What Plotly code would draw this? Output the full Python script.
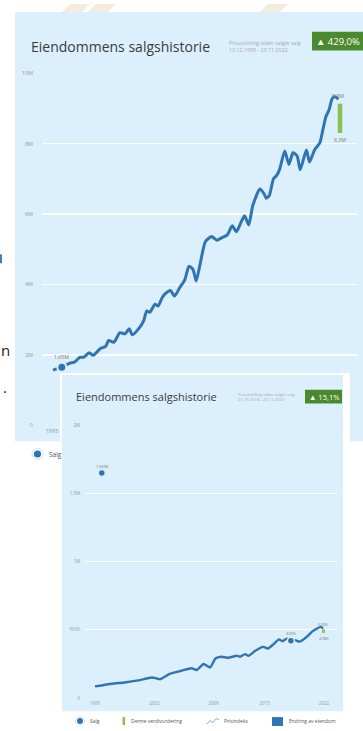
import plotly.graph_objects as go

W, H = 363, 731

# ---------------- data ----------------
# Top chart: price index line, NOK millions
top_years = [1995.1, 1996.0, 1996.7, 1997.2, 1997.7, 1998.1, 1998.6, 1999.0, 1999.7, 2000.2,
             2000.5, 2001.0, 2001.6, 2002.1, 2002.5, 2002.8, 2003.4, 2003.9, 2004.2, 2004.5,
             2005.0, 2005.3, 2005.7, 2006.0, 2006.5, 2006.9, 2007.4, 2007.9, 2008.3, 2008.7,
             2009.0, 2009.4, 2009.9, 2010.5, 2011.0, 2011.5, 2012.0, 2012.5, 2012.9, 2013.4,
             2013.7, 2014.1, 2014.5, 2015.2, 2015.6, 2015.8, 2016.1, 2016.5, 2016.8, 2017.1,
             2017.6, 2018.0, 2018.4, 2018.8, 2019.1, 2019.7, 2020.0, 2020.5, 2021.0, 2021.3,
             2021.6, 2021.9, 2022.2, 2022.5, 2022.8]
top_values = [1.57, 1.66, 1.76, 1.80, 1.93, 1.94, 2.06, 1.99, 2.18, 2.24,
              2.41, 2.36, 2.63, 2.60, 2.74, 2.57, 2.74, 2.97, 3.25, 3.21,
              3.44, 3.39, 3.63, 3.74, 3.83, 3.67, 3.91, 4.14, 4.52, 4.42,
              4.10, 4.61, 5.22, 5.36, 5.26, 5.33, 5.40, 5.67, 5.50, 5.80,
              5.95, 5.69, 6.25, 6.71, 6.57, 6.45, 6.53, 7.00, 7.09, 7.27,
              7.79, 7.41, 7.74, 7.65, 7.26, 7.82, 7.48, 7.83, 8.02, 8.40,
              8.77, 8.96, 9.28, 9.33, 9.26]
top_sale_years = [1995.95]
top_sale_values = [1.65]
top_sale_labels = ["1,65M"]
top_val_year = 2022.96
top_val_low = 8.3
top_val_high = 9.13
top_val_low_label = "8,3M"
top_end_label = "9,3M"
top_yticks = [0, 2, 4, 6, 8, 10]
top_yticktext = ["0", "2M", "4M", "6M", "8M", "10M"]
top_xticks = [1995, 2002, 2009, 2015, 2022]
top_xticktext = ["1995", "2002", "2009", "2015", "2022"]
top_change = "▲ 429,0%"
top_period = "13.12.1995 - 23.11.2022"

# Bottom chart: price index line, NOK millions
bot_years = [1995.0, 1997.0, 1998.5, 2000.1, 2001.7, 2002.2, 2002.7, 2003.8, 2005.2, 2006.4,
             2007.0, 2007.8, 2008.6, 2009.2, 2009.9, 2010.7, 2011.7, 2012.1, 2012.7, 2013.1,
             2013.9, 2014.8, 2015.4, 2016.0, 2016.7, 2017.1, 2017.6, 2018.1, 2018.6, 2019.1,
             2019.5, 2020.0, 2020.6, 2021.2, 2021.6, 2021.9]
bot_values = [0.085, 0.105, 0.114, 0.129, 0.150, 0.145, 0.138, 0.177, 0.200, 0.218,
              0.206, 0.250, 0.225, 0.290, 0.303, 0.295, 0.310, 0.303, 0.322, 0.310,
              0.346, 0.375, 0.363, 0.392, 0.430, 0.416, 0.435, 0.420, 0.425, 0.414,
              0.426, 0.450, 0.487, 0.510, 0.522, 0.510]
bot_sale_years = [1995.8, 2018.1]
bot_sale_values = [1.65, 0.42]
bot_sale_labels = ["1,65M", "420K"]
bot_val_year = 2021.95
bot_val_low = 0.478
bot_val_high = 0.503
bot_val_low_label = "478K"
bot_end_label = "520K"
bot_yticks = [0, 0.5, 1, 1.5, 2]
bot_yticktext = ["0", "500K", "1M", "1,5M", "2M"]
bot_xticks = [1995, 2002, 2009, 2015, 2022]
bot_xticktext = ["1995", "2002", "2009", "2015", "2022"]
bot_change = "▲ 15,1%"
bot_period = "01.10.2018 - 23.11.2022"

title_text = "Eiendommens salgshistorie"
subtitle_text = "Prisutvikling siden salgte salg"
legend_items = ["Salg", "Denne verdivurdering", "Prisindeks", "Endring av eiendom"]

# ---------------- style ----------------
FONT = "Open Sans"
PANEL = "#dcEFFC"
LINE = "#2f74b3"
GREEN_BAR = "#8cc152"
BADGE = "#4a8a2c"
TICK = "#9a9a9a"


def fx(px):
    return px / W


def fy(py):
    return 1 - py / H


fig = go.Figure()

# top chart traces (x, y)
fig.add_trace(go.Scatter(x=top_years, y=top_values, mode="lines",
                         line=dict(color=LINE, width=3, shape="spline", smoothing=0.6),
                         xaxis="x", yaxis="y", hoverinfo="skip", showlegend=False))
fig.add_trace(go.Scatter(x=[top_val_year, top_val_year], y=[top_val_low, top_val_high], mode="lines",
                         line=dict(color=GREEN_BAR, width=4.5),
                         xaxis="x", yaxis="y", hoverinfo="skip", showlegend=False))
fig.add_trace(go.Scatter(x=top_sale_years, y=top_sale_values, mode="markers",
                         marker=dict(color=LINE, size=9, line=dict(color=PANEL, width=2)),
                         xaxis="x", yaxis="y", hoverinfo="skip", showlegend=False, cliponaxis=False))

# helper subplot: the overlaid card (x2, y2)
fig.add_trace(go.Scatter(x=[0.5], y=[0.5], mode="markers", marker=dict(opacity=0),
                         xaxis="x2", yaxis="y2", hoverinfo="skip", showlegend=False))

# bottom chart traces (x3, y3)
fig.add_trace(go.Scatter(x=bot_years, y=bot_values, mode="lines",
                         line=dict(color=LINE, width=2.4, shape="spline", smoothing=0.5),
                         xaxis="x3", yaxis="y3", hoverinfo="skip", showlegend=False))
fig.add_trace(go.Scatter(x=[bot_val_year, bot_val_year], y=[bot_val_low, bot_val_high], mode="lines",
                         line=dict(color=GREEN_BAR, width=3),
                         xaxis="x3", yaxis="y3", hoverinfo="skip", showlegend=False))
fig.add_trace(go.Scatter(x=bot_sale_years, y=bot_sale_values, mode="markers",
                         marker=dict(color=LINE, size=7, line=dict(color=PANEL, width=1.5)),
                         xaxis="x3", yaxis="y3", hoverinfo="skip", showlegend=False))

axis_common = dict(showline=False, zeroline=False, ticks="", gridcolor="white", gridwidth=1.2,
                   fixedrange=True)

fig.update_layout(
    width=W, height=H, autosize=False,
    margin=dict(l=0, r=0, t=0, b=0, pad=0),
    paper_bgcolor="white", plot_bgcolor="rgba(0,0,0,0)",
    font=dict(family=FONT, color="#444"),
    xaxis=dict(axis_common, domain=[fx(42), fx(357)], range=[1995 + (42 - 52) / 10.3, 1995 + (357 - 52) / 10.3],
               anchor="y", tickvals=top_xticks, ticktext=top_xticktext, showgrid=False,
               tickfont=dict(size=5.5, color=TICK), ticklabelstandoff=1),
    yaxis=dict(axis_common, domain=[fy(426), fy(70)], range=[0, 10], anchor="x",
               tickvals=top_yticks, ticktext=top_yticktext,
               tickfont=dict(size=5.5, color=TICK), ticklabelstandoff=8),
    xaxis2=dict(domain=[fx(60), fx(350)], range=[0, 1], anchor="y2", visible=False, fixedrange=True),
    yaxis2=dict(domain=[0, fy(373)], range=[0, 1], anchor="x2", visible=False, fixedrange=True),
    xaxis3=dict(axis_common, domain=[fx(85), fx(337)], range=[1995 + (85 - 95) / 8.48, 1995 + (337 - 95) / 8.48],
                anchor="y3", tickvals=bot_xticks, ticktext=bot_xticktext, showgrid=False,
                tickfont=dict(size=4.5, color=TICK), ticklabelstandoff=1),
    yaxis3=dict(axis_common, domain=[fy(701.7), fy(426)], range=[0, 2], anchor="x3",
                tickvals=bot_yticks, ticktext=bot_yticktext,
                tickfont=dict(size=4.5, color=TICK), ticklabelstandoff=4),
)

shapes = []
# faint background stripes of the page
for x0 in (70, 96, 268):
    shapes.append(dict(type="path", xref="paper", yref="paper", layer="below",
                       path=f"M {fx(x0)} {fy(0)} L {fx(x0 + 20)} {fy(0)} L {fx(x0 + 12)} {fy(8)} L {fx(x0 - 8)} {fy(8)} Z",
                       fillcolor="#f4ecdd", line=dict(width=0)))
# top panel background
shapes.append(dict(type="rect", xref="paper", yref="paper", layer="below",
                   x0=fx(15), x1=1.01, y0=fy(442), y1=fy(8), fillcolor=PANEL, line=dict(width=0)))
# overlaid card (inside helper subplot so it covers the top chart but stays under the bottom chart)
shapes.append(dict(type="rect", xref="x2", yref="y2", layer="below",
                   x0=0, x1=1, y0=0, y1=1, fillcolor="white", line=dict(width=0)))
shapes.append(dict(type="rect", xref="x2", yref="y2", layer="below",
                   x0=(62 - 60) / 290, x1=(343 - 60) / 290, y0=(731 - 715) / 358, y1=(731 - 375) / 358,
                   fillcolor=PANEL, line=dict(width=0)))
# badges
shapes.append(dict(type="rect", xref="paper", yref="paper", layer="above",
                   x0=fx(312), x1=1.01, y0=fy(47), y1=fy(28), fillcolor=BADGE, line=dict(width=0)))
shapes.append(dict(type="rect", xref="paper", yref="paper", layer="above",
                   x0=fx(305), x1=fx(342), y0=fy(404), y1=fy(390), fillcolor=BADGE, line=dict(width=0)))
# left-edge fragment of page behind
shapes.append(dict(type="rect", xref="paper", yref="paper", layer="below",
                   x0=0, x1=fx(2), y0=fy(262), y1=fy(253), fillcolor="#3d7fc0", line=dict(width=0)))


def circle(cx, cy, r, fill, line_color=None, lw=0):
    return dict(type="circle", xref="paper", yref="paper", layer="above",
                x0=fx(cx - r), x1=fx(cx + r), y0=fy(cy + r), y1=fy(cy - r),
                fillcolor=fill, line=dict(color=line_color or fill, width=lw))


# top legend "Salg" symbol
shapes.append(circle(37.5, 455, 5.5, "white", "#cfe2f1", 1))
shapes.append(circle(37.5, 455, 3.6, LINE))
# bottom legend symbols
shapes.append(circle(80, 725, 4.6, "white", "#cfe2f1", 0.8))
shapes.append(circle(80, 725, 3.0, LINE))
shapes.append(dict(type="rect", xref="paper", yref="paper", layer="above",
                   x0=fx(122.5), x1=fx(125), y0=fy(729), y1=fy(721), fillcolor=GREEN_BAR, line=dict(width=0)))
shapes.append(dict(type="path", xref="paper", yref="paper", layer="above",
                   path=(f"M {fx(207)} {fy(728)} L {fx(210)} {fy(724.5)} L {fx(213)} {fy(726.5)} "
                         f"L {fx(216)} {fy(722.5)} L {fx(219)} {fy(723.5)}"),
                   line=dict(color="#7fb3e2", width=1)))
shapes.append(dict(type="rect", xref="paper", yref="paper", layer="above",
                   x0=fx(272), x1=fx(283), y0=fy(730), y1=fy(721), fillcolor=LINE, line=dict(width=0)))

annotations = []


def ptxt(text, x, y, size, color="#444", xanchor="left", yanchor="middle", align="left"):
    annotations.append(dict(text=text, xref="paper", yref="paper", x=fx(x), y=fy(y),
                            xanchor=xanchor, yanchor=yanchor, align=align, showarrow=False,
                            font=dict(family=FONT, size=size, color=color)))


# page fragments
ptxt("n", -1, 350, 15, "#222")
ptxt(".", 1, 387, 15, "#222")

# top chart header
ptxt(title_text, 29, 43, 14, "#3b3b3b")
ptxt(subtitle_text + "<br>" + top_period, 227, 43, 5.3, "#aaaaaa")
ptxt(top_change, 338, 37.5, 9.5, "white", xanchor="center")
# top legend
ptxt(legend_items[0], 47, 455, 6.5, "#555")

# bottom chart header
ptxt(title_text, 74, 397, 11, "#3b3b3b")
ptxt(subtitle_text + "<br>" + bot_period, 236, 397, 4.2, "#aaaaaa")
ptxt(bot_change, 323.5, 397, 7.5, "white", xanchor="center")
# bottom legend
ptxt(legend_items[0], 88, 725, 5, "#555")
ptxt(legend_items[1], 129, 725, 5, "#555")
ptxt(legend_items[2], 222, 725, 5, "#555")
ptxt(legend_items[3], 287, 725, 5, "#555")


def dtxt(text, x, y, xr, yr, size, yshift):
    annotations.append(dict(text=text, xref=xr, yref=yr, x=x, y=y, xanchor="center", yanchor="middle",
                            yshift=yshift, showarrow=False, font=dict(family=FONT, size=size, color="#7a7a7a")))


for yr, v, lab in zip(top_sale_years, top_sale_values, top_sale_labels):
    dtxt(lab, yr, v, "x", "y", 5.2, 10)
dtxt(top_end_label, top_years[-1], max(top_values), "x", "y", 5.2, 1)
dtxt(top_val_low_label, top_val_year, top_val_low, "x", "y", 5.2, -7)

for yr, v, lab in zip(bot_sale_years, bot_sale_values, bot_sale_labels):
    dtxt(lab, yr, v, "x3", "y3", 4.2, 7)
dtxt(bot_end_label, bot_years[-1], max(bot_values), "x3", "y3", 4.2, 2)
dtxt(bot_val_low_label, bot_val_year, bot_val_low, "x3", "y3", 4.2, -6)

fig.update_layout(shapes=shapes, annotations=annotations)

fig.write_html("out.html", config={"displayModeBar": False, "staticPlot": True})
